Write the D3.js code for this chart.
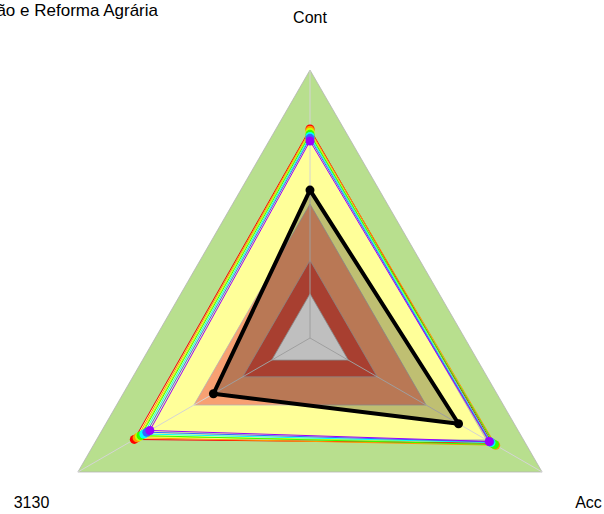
<!DOCTYPE html>
<html>
<head>
<meta charset="utf-8">
<script src="https://cdn.jsdelivr.net/npm/d3@7"></script>
<style>
  body { margin: 0; background: #fff; }
  text { font-family: "Liberation Sans", Arial, sans-serif; font-size: 16px; fill: #000; }
</style>
</head>
<body>
<svg width="604" height="514"></svg>
<script>
// set data

const axes = ["Cont", "3130", "Acc"];
const title = "Instituto Nacional de Colonização e Reforma Agrária";

// background bands (outer to inner)
const bandLevels = [1, 0.76, 0.5, 0.29, 0.165];
const bandColors = ["#b8df8e", "#ffff99", "#f7a072", "#e05540", "#ffffff"];

// series values, in axis order Cont, 3130, Acc
const red    = [0.780, 0.757, 0.785];
const orange = [0.775, 0.745, 0.800];
const yellow = [0.768, 0.735, 0.775];
const green  = [0.760, 0.728, 0.795];
const cyan   = [0.752, 0.716, 0.780];
const blue   = [0.745, 0.703, 0.775];
const purple = [0.735, 0.690, 0.772];
const black  = [0.552, 0.416, 0.640];

const series = [
  { color: "#ff0000", values: red },
  { color: "#ff9900", values: orange },
  { color: "#ccff00", values: yellow },
  { color: "#33ff00", values: green },
  { color: "#00ffff", values: cyan },
  { color: "#3366ff", values: blue },
  { color: "#9900ff", values: purple }
];

// dimensions

const cx = 310, cy = 338, R = 268;

const svg = d3.select("svg");
const g = svg.append("g").attr("transform", `translate(${cx},${cy})`);

const r = d3.scaleLinear().domain([0, 1]).range([0, R]);
const angle = d3.scalePoint().domain(axes).range([0, -2 * Math.PI * 2 / 3]);

const radial = d3.lineRadial()
  .angle((d, i) => angle(axes[i]))
  .radius(d => r(d))
  .curve(d3.curveLinearClosed);

const pt = (v, i) => d3.pointRadial(angle(axes[i]), r(v));

// bands

g.selectAll(".band")
  .data(bandLevels)
  .enter()
  .append("path")
  .attr("class", "band")
  .attr("d", d => radial(axes.map(() => d)))
  .attr("fill", (d, i) => bandColors[i])
  .attr("stroke", "#b4b4b4")
  .attr("stroke-width", 0.8);

// spokes

g.selectAll(".spoke")
  .data(axes)
  .enter()
  .append("line")
  .attr("class", "spoke")
  .attr("x1", 0).attr("y1", 0)
  .attr("x2", d => d3.pointRadial(angle(d), r(1))[0])
  .attr("y2", d => d3.pointRadial(angle(d), r(1))[1])
  .attr("stroke", "#d4d4d4")
  .attr("stroke-width", 1);

// rainbow series

series.forEach(s => {
  g.append("path")
    .attr("d", radial(s.values))
    .attr("fill", "none")
    .attr("stroke", s.color)
    .attr("stroke-width", 1);
});
series.forEach(s => {
  g.selectAll(null)
    .data(s.values)
    .enter()
    .append("circle")
    .attr("cx", (d, i) => pt(d, i)[0])
    .attr("cy", (d, i) => pt(d, i)[1])
    .attr("r", 4.5)
    .attr("fill", s.color);
});

// black series with translucent fill

g.append("path")
  .attr("d", radial(black))
  .attr("fill", "rgba(0,0,0,0.25)")
  .attr("stroke", "#000")
  .attr("stroke-width", 4)
  .attr("stroke-linejoin", "round");

g.selectAll(".bdot")
  .data(black)
  .enter()
  .append("circle")
  .attr("cx", (d, i) => pt(d, i)[0])
  .attr("cy", (d, i) => pt(d, i)[1])
  .attr("r", 4.5)
  .attr("fill", "#000");

// axis labels

g.selectAll(".lab")
  .data(axes)
  .enter()
  .append("text")
  .attr("x", d => d3.pointRadial(angle(d), r(1.2))[0])
  .attr("y", d => d3.pointRadial(angle(d), r(1.2))[1])
  .attr("dy", (d, i) => i === 0 ? "0.4em" : "0.55em")
  .attr("text-anchor", "middle")
  .text(d => d);

// title

svg.append("text")
  .attr("x", 158)
  .attr("y", 16)
  .attr("text-anchor", "end")
  .style("font-size", "17px")
  .text(title);
</script>
</body>
</html>
